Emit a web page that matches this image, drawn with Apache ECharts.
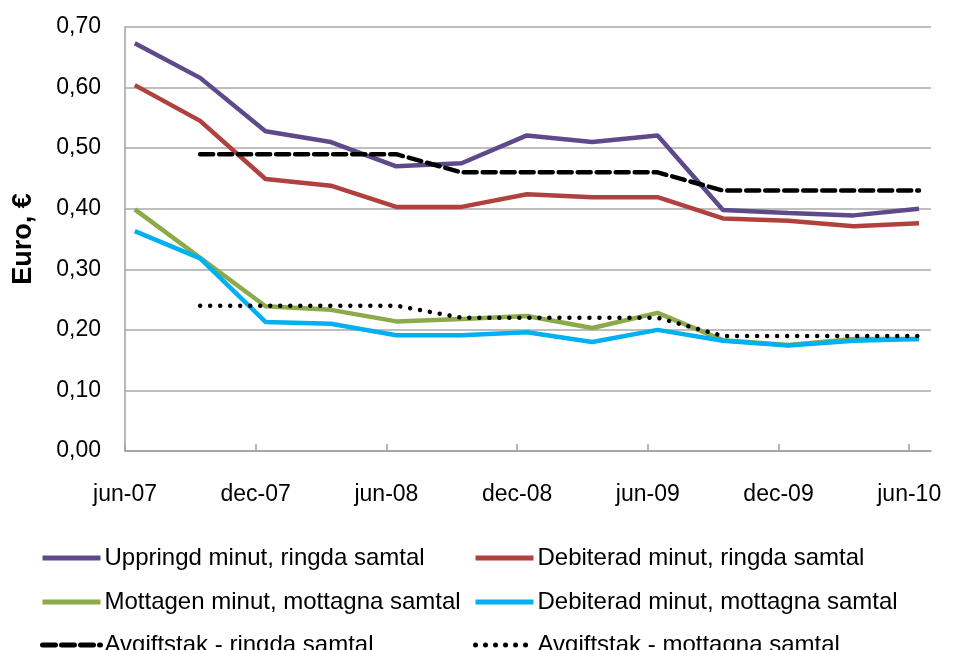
<!DOCTYPE html>
<html>
<head>
<meta charset="utf-8">
<script src="https://cdn.jsdelivr.net/npm/echarts@6/dist/echarts.min.js"></script>
<style>
  html, body { margin: 0; padding: 0; background: #fff; }
  #chart { width: 953px; height: 650px; }
</style>
</head>
<body>
<div id="chart"></div>
<script>
// quarterly observations, jun-07 .. jun-10
const quarters = ["jun-07", "sep-07", "dec-07", "mar-08", "jun-08", "sep-08", "dec-08",
                  "mar-09", "jun-09", "sep-09", "dec-09", "mar-10", "jun-10"];
// axis labels every 6 months
const tickLabels = ["jun-07", "dec-07", "jun-08", "dec-08", "jun-09", "dec-09", "jun-10"];

const uppringdRingda = [0.673, 0.616, 0.528, 0.510, 0.470, 0.475, 0.521, 0.510, 0.521, 0.398, 0.393, 0.389, 0.400];
const debiteradRingda = [0.604, 0.545, 0.449, 0.438, 0.403, 0.403, 0.424, 0.419, 0.419, 0.384, 0.380, 0.371, 0.376];
const mottagenMottagna = [0.399, 0.319, 0.239, 0.233, 0.214, 0.218, 0.223, 0.203, 0.228, 0.183, 0.175, 0.185, 0.185];
const debiteradMottagna = [0.363, 0.318, 0.213, 0.210, 0.191, 0.191, 0.196, 0.180, 0.200, 0.182, 0.174, 0.182, 0.185];
const takRingda = [null, 0.49, 0.49, 0.49, 0.49, 0.46, 0.46, 0.46, 0.46, 0.43, 0.43, 0.43, 0.43];
const takMottagna = [null, 0.24, 0.24, 0.24, 0.24, 0.22, 0.22, 0.22, 0.22, 0.19, 0.19, 0.19, 0.19];

const seriesNames = [
  "Uppringd minut, ringda samtal", "Debiterad minut, ringda samtal",
  "Mottagen minut, mottagna samtal", "Debiterad minut, mottagna samtal",
  "Avgiftstak - ringda samtal", "Avgiftstak - mottagna samtal",
];

// x position in months since jun-07, points sit mid-month
function toXY(values) {
  return values.map((v, i) => [i * 3 + 0.45, v]);
}

const font = "Liberation Sans";
var myChart = echarts.init(document.getElementById("chart"));

function lineSeries(name, data, color, dash) {
  return {
    name: name,
    type: "line",
    data: toXY(data),
    symbol: "none",
    lineStyle: { color: color, width: 4.5, type: dash || "solid", cap: dash ? "round" : "butt" },
    itemStyle: { color: color },
  };
}

// one legend per item so the two columns line up like the original
const legendLeft = [35, 468];
const legendTop = [541, 585, 628];
const legends = seriesNames.map((n, i) => ({
  data: [n],
  left: legendLeft[i % 2],
  top: legendTop[Math.floor(i / 2)],
  itemWidth: 58,
  itemHeight: 24,
  itemGap: 0,
  itemStyle: { opacity: 0 },
  lineStyle: { width: 5 },
  selectedMode: false,
  textStyle: { fontSize: 24, color: "#000", padding: [0, 0, 0, -1] },
}));

var option = {
  animation: false,
  textStyle: { fontFamily: font },
  grid: { left: 125, right: 22, top: 27, bottom: 199, outerBoundsMode: "none", containLabel: false },
  xAxis: {
    type: "value",
    min: 0,
    max: 37,
    interval: 6,
    axisLine: { lineStyle: { color: "#a0a0a0", width: 1.5 } },
    axisTick: { show: true, inside: true, length: 7, lineStyle: { color: "#a0a0a0", width: 1.5 } },
    splitLine: { show: false },
    axisLabel: {
      color: "#000",
      fontSize: 23,
      margin: 32,
      showMaxLabel: false,
      formatter: function (v) {
        return tickLabels[v / 6] || "";
      },
    },
  },
  yAxis: {
    type: "value",
    min: 0,
    max: 0.7,
    interval: 0.1,
    name: "Euro, €",
    nameLocation: "middle",
    nameGap: 88,
    nameTextStyle: { fontSize: 27, fontWeight: "bold", color: "#000" },
    axisLine: { show: true, lineStyle: { color: "#a0a0a0", width: 1.5 } },
    axisTick: { show: false },
    splitLine: { lineStyle: { color: "#a8a8a8", width: 1.5 } },
    axisLabel: {
      color: "#000",
      fontSize: 23,
      margin: 24,
      formatter: function (v) {
        return v.toFixed(2).replace(".", ",");
      },
    },
  },
  legend: legends,
  series: [
    lineSeries(seriesNames[0], uppringdRingda, "#5e4a8a"),
    lineSeries(seriesNames[1], debiteradRingda, "#b0413e"),
    lineSeries(seriesNames[2], mottagenMottagna, "#8baa4a"),
    lineSeries(seriesNames[3], debiteradMottagna, "#00b0f0"),
    lineSeries(seriesNames[4], takRingda, "#000000", [13, 6]),
    lineSeries(seriesNames[5], takMottagna, "#000000", [0.01, 10]),
  ],
};

option && myChart.setOption(option);
</script>
</body>
</html>
